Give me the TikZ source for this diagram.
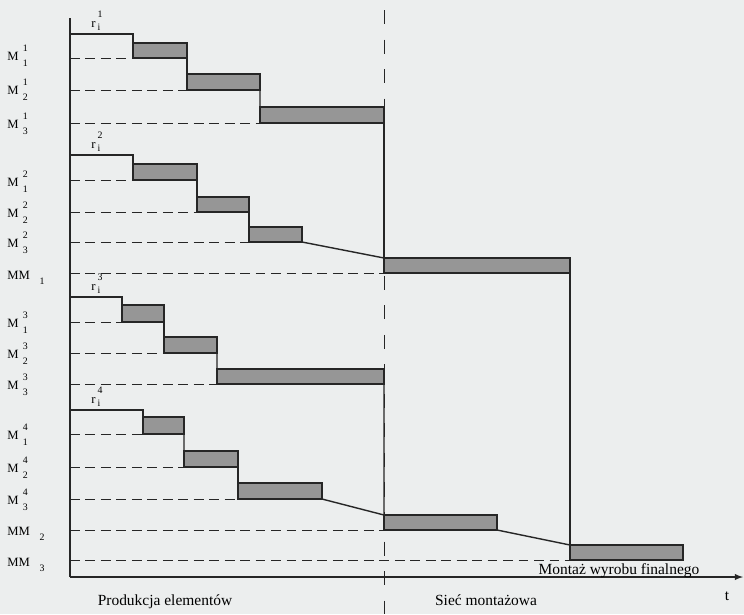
\documentclass[tikz,border=0pt]{standalone}
\usepackage{fontspec}
\setmainfont{Liberation Serif}
\usetikzlibrary{positioning,fit}
\definecolor{paper}{RGB}{236,238,238}
\definecolor{barfill}{RGB}{150,150,150}
\tikzset{
  bar/.style={draw=black!85, line width=1.2pt, fill=barfill, inner sep=0pt, outer sep=0pt},
  stair/.style={black!85, line width=1pt},
  guide/.style={black!85, line width=0.7pt, dash pattern=on 7pt off 4pt},
  border/.style={black!85, line width=0.7pt, dash pattern=on 10pt off 11pt},
  lab/.style={font=\small, inner sep=0pt},
  captext/.style={font=\fontsize{11}{13}\selectfont, inner sep=0pt}
}
\begin{document}
\begin{tikzpicture}[x=0.025cm, y=-0.025cm]
    \newcommand{\mlab}[3]{#1\hspace{3pt}\makebox[0pt][l]{\raisebox{1.4ex}{\scriptsize#2}}\raisebox{-1.1ex}{\scriptsize#3}}
    \newcommand{\rlab}[1]{r\,\makebox[0pt][l]{\raisebox{1.7ex}{\scriptsize#1}}\raisebox{-0.6ex}{\scriptsize i}}
    \useasboundingbox (0,0) rectangle (744,614);
    \fill[paper] (0,0) rectangle (744,614);
    % axes and the border between both stages
    \coordinate (o) at (70,577); \coordinate (ytop) at (70,18);
    \coordinate (xend) at (743,577);
    \coordinate (btop) at (384,10); \coordinate (bbot) at (384,614);
    \draw[border] (btop) -- (bbot);
    % start of each r_i line
    \coordinate (s1) at (70,34); \coordinate (s2) at (70,155);
    \coordinate (s3) at (70,297); \coordinate (s4) at (70,410);
    % operations
    \node[bar, fit={(133,43) (187,58)}] (b11) {};
    \node[bar, fit={(187,74) (260,90)}] (b12) {};
    \node[bar, fit={(260,107) (384,123)}] (b13) {};
    \node[bar, fit={(133,164) (197,180)}] (b21) {};
    \node[bar, fit={(197,197) (249,212)}] (b22) {};
    \node[bar, fit={(249,227) (302,242)}] (b23) {};
    \node[bar, fit={(122,305) (164,322)}] (b31) {};
    \node[bar, fit={(164,337) (217,353)}] (b32) {};
    \node[bar, fit={(217,369) (384,384)}] (b33) {};
    \node[bar, fit={(143,417) (184,434)}] (b41) {};
    \node[bar, fit={(184,451) (238,467)}] (b42) {};
    \node[bar, fit={(238,483) (322,499)}] (b43) {};
    \node[bar, fit={(384,258) (570,273)}] (mm1) {};
    \node[bar, fit={(384,515) (497,530)}] (mm2) {};
    \node[bar, fit={(570,545) (683,560)}] (mm3) {};
    \foreach \b in {b11,b12,b13,b21,b22,b23,b31,b32,b33,b41,b42,b43,mm1,mm2,mm3}
      \draw[guide] (\b.south west -| o) -- (\b.south west);
    % staircases
    \draw[stair] (s1) -| (b11.south west);
    \draw[stair] (b11.north east) -- (b12.south west);
    \draw[stair] (b12.north east) -- (b13.south west);
    \draw[stair] (b13.north east) -- (mm1.south west);
    \draw[stair] (s2) -| (b21.south west);
    \draw[stair] (b21.north east) -- (b22.south west);
    \draw[stair] (b22.north east) -- (b23.south west);
    \draw[stair] (b23.south east) -- (mm1.north west);
    \draw[stair] (s3) -| (b31.south west);
    \draw[stair] (b31.north east) -- (b32.south west);
    \draw[stair] (b32.north east) -- (b33.south west);
    \draw[stair] (b33.north east) -- (mm2.south west);
    \draw[stair] (s4) -| (b41.south west);
    \draw[stair] (b41.north east) -- (b42.south west);
    \draw[stair] (b42.north east) -- (b43.south west);
    \draw[stair] (b43.south east) -- (mm2.north west);
    \draw[stair] (mm1.north east) -- (mm3.south west);
    \draw[stair] (mm2.south east) -- (mm3.north west);
    \draw[stair] (ytop) -- (o);
    \draw[stair,-latex] (o) -- (xend);
    % labels
    \foreach \n/\s/\u/\y in {l11/1/1/60, l12/1/2/94, l13/1/3/128, l21/2/1/186,
      l22/2/2/217, l23/2/3/247, l31/3/1/327, l32/3/2/358, l33/3/3/389,
      l41/4/1/439, l42/4/2/472, l43/4/3/504}
      \node[lab, anchor=base west] (\n) at (7,\y) {\mlab{M}{\s}{\u}};
    \foreach \n/\u/\y in {lm1/1/279, lm2/2/535, lm3/3/566}
      \node[lab, anchor=base west] (\n) at (7,\y) {MM\hspace{7pt}\raisebox{-0.9ex}{\scriptsize\u}};
    \foreach \n/\k/\y in {r1/1/27, r2/2/148, r3/3/290, r4/4/403}
      \node[lab, anchor=base west] (\n) at (91,\y) {\rlab{\k}};
    \node[captext, anchor=base] (fin) at (619,574) {Montaż wyrobu finalnego};
    \node[captext, anchor=base] (tt) at (727,600) {t};
    \node[captext, anchor=base] (prod) at (165,605) {Produkcja elementów};
    \node[captext, anchor=base] (siec) at (486,605) {Sieć montażowa};
\end{tikzpicture}
\end{document}
